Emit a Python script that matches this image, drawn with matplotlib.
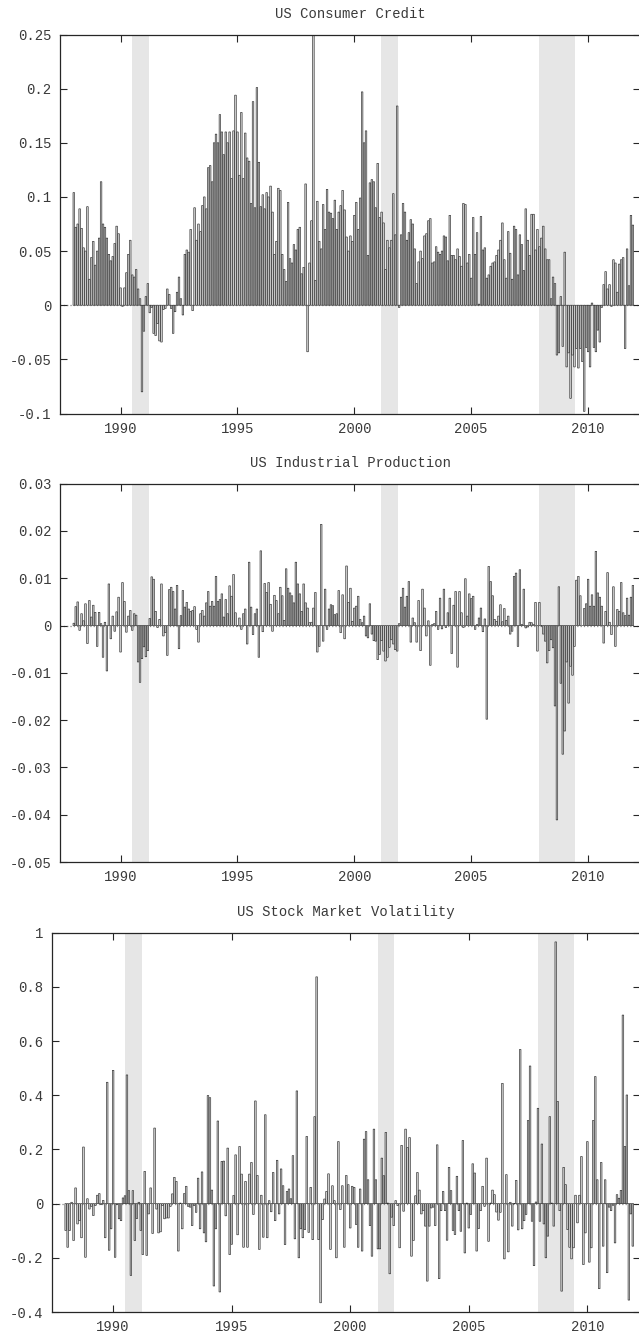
import matplotlib
matplotlib.use("Agg")
import matplotlib.pyplot as plt
import numpy as np

plt.rcParams["font.family"] = ["Liberation Mono", "DejaVu Sans Mono"]

# monthly data, Jan 1988 - Dec 2011 (one row per year)
start_year = 1988

consumer_credit = [
    0.104, 0.072, 0.075, 0.089, 0.071, 0.053, 0.050, 0.091, 0.024, 0.044, 0.059, 0.037,
    0.050, 0.062, 0.114, 0.075, 0.072, 0.062, 0.047, 0.041, 0.045, 0.057, 0.073, 0.066,
    0.016, -0.001, 0.016, 0.030, 0.047, 0.060, 0.028, 0.026, 0.033, 0.015, 0.006, -0.080,
    -0.024, 0.008, 0.020, -0.007, -0.002, -0.026, -0.028, -0.017, -0.033, -0.034, -0.004, -0.003,
    0.015, 0.010, -0.003, -0.026, -0.006, 0.012, 0.026, 0.006, -0.009, 0.047, 0.051, 0.049,
    0.070, -0.005, 0.090, 0.060, 0.075, 0.068, 0.092, 0.100, 0.089, 0.127, 0.129, 0.114,
    0.150, 0.158, 0.150, 0.176, 0.160, 0.139, 0.160, 0.150, 0.160, 0.117, 0.161, 0.194,
    0.160, 0.120, 0.178, 0.117, 0.159, 0.136, 0.133, 0.094, 0.188, 0.090, 0.201, 0.132,
    0.091, 0.102, 0.089, 0.104, 0.100, 0.110, 0.086, 0.047, 0.059, 0.108, 0.106, 0.047,
    0.033, 0.022, 0.095, 0.043, 0.039, 0.056, 0.051, 0.070, 0.072, 0.029, 0.035, 0.112,
    -0.043, 0.039, 0.078, 0.249, 0.023, 0.096, 0.059, 0.052, 0.093, 0.070, 0.107, 0.086,
    0.085, 0.080, 0.097, 0.070, 0.086, 0.092, 0.106, 0.088, 0.063, 0.050, 0.064, 0.059,
    0.083, 0.095, 0.070, 0.099, 0.197, 0.150, 0.161, 0.046, 0.113, 0.116, 0.114, 0.090,
    0.131, 0.081, 0.086, 0.076, 0.033, 0.060, 0.053, 0.060, 0.103, 0.065, 0.184, -0.002,
    0.065, 0.094, 0.086, 0.060, 0.067, 0.079, 0.075, 0.052, 0.020, 0.040, 0.050, 0.043,
    0.064, 0.066, 0.078, 0.080, 0.039, 0.040, 0.054, 0.049, 0.047, 0.050, 0.064, 0.063,
    0.041, 0.083, 0.046, 0.046, 0.042, 0.052, 0.045, 0.036, 0.094, 0.093, 0.039, 0.047,
    0.025, 0.081, 0.047, 0.067, 0.001, 0.082, 0.051, 0.053, 0.025, 0.028, 0.036, 0.039,
    0.040, 0.046, 0.051, 0.060, 0.076, 0.042, 0.025, 0.068, 0.048, 0.024, 0.073, 0.070,
    0.028, 0.065, 0.056, 0.032, 0.089, 0.060, 0.046, 0.084, 0.084, 0.051, 0.070, 0.054,
    0.062, 0.073, 0.052, 0.042, 0.042, 0.006, 0.026, 0.020, -0.046, -0.044, 0.008, -0.038,
    0.049, -0.057, -0.044, -0.086, -0.046, -0.057, -0.040, -0.058, -0.040, -0.052, -0.098, -0.039,
    -0.043, -0.057, 0.002, -0.039, -0.043, -0.023, -0.034, -0.002, 0.019, 0.031, 0.015, 0.019,
    -0.001, 0.042, 0.039, 0.012, 0.038, 0.042, 0.044, -0.040, 0.052, 0.018, 0.083, 0.074,
]

industrial_production = [
    0.0005, 0.0040, 0.0050, -0.0010, 0.0025, 0.0010, 0.0046, -0.0038, 0.0053, 0.0018, 0.0043, 0.0028,
    -0.0044, 0.0028, 0.0004, -0.0067, 0.0007, -0.0096, 0.0088, -0.0028, 0.0020, -0.0012, 0.0029, 0.0060,
    -0.0056, 0.0091, 0.0051, -0.0014, 0.0020, 0.0032, -0.0010, 0.0025, 0.0022, -0.0077, -0.0120, -0.0070,
    -0.0045, -0.0066, -0.0053, 0.0015, 0.0103, 0.0098, 0.0030, -0.0004, 0.0013, 0.0088, -0.0022, -0.0015,
    -0.0063, 0.0076, 0.0081, 0.0072, 0.0035, 0.0085, -0.0049, 0.0021, 0.0074, 0.0039, 0.0049, 0.0035,
    0.0030, 0.0032, 0.0040, -0.0008, -0.0035, 0.0025, 0.0032, 0.0020, 0.0048, 0.0072, 0.0041, 0.0051,
    0.0041, 0.0104, 0.0051, 0.0055, 0.0067, 0.0018, 0.0055, 0.0025, 0.0084, 0.0062, 0.0108, 0.0027,
    -0.0001, 0.0016, -0.0008, 0.0025, 0.0035, -0.0039, 0.0134, 0.0039, -0.0019, 0.0025, 0.0035, -0.0067,
    0.0158, -0.0013, 0.0089, 0.0070, 0.0091, 0.0045, -0.0012, 0.0064, 0.0053, 0.0025, 0.0081, 0.0063,
    0.0011, 0.0120, 0.0079, 0.0069, 0.0063, 0.0048, 0.0134, 0.0088, 0.0067, 0.0030, 0.0088, 0.0048,
    0.0037, 0.0006, 0.0007, 0.0037, 0.0070, -0.0056, -0.0044, 0.0214, -0.0033, 0.0077, -0.0008, 0.0035,
    0.0044, 0.0042, 0.0023, 0.0025, 0.0074, -0.0015, 0.0065, -0.0028, 0.0126, 0.0049, 0.0079, 0.0009,
    0.0037, 0.0041, 0.0062, 0.0013, 0.0006, 0.0020, -0.0022, -0.0026, 0.0046, -0.0018, -0.0032, -0.0033,
    -0.0072, -0.0061, -0.0032, -0.0054, -0.0075, -0.0067, -0.0046, -0.0030, -0.0039, -0.0051, -0.0054, 0.0004,
    0.0060, 0.0079, 0.0039, 0.0062, 0.0093, -0.0035, 0.0016, 0.0006, -0.0035, 0.0053, -0.0053, 0.0077,
    0.0037, -0.0022, 0.0010, -0.0084, 0.0002, 0.0004, 0.0030, -0.0008, 0.0058, -0.0007, 0.0077, -0.0004,
    0.0027, 0.0058, -0.0059, 0.0043, 0.0072, -0.0088, 0.0072, 0.0027, -0.0004, 0.0099, 0.0020, 0.0067,
    0.0057, 0.0062, -0.0008, 0.0002, 0.0016, 0.0037, -0.0013, 0.0014, -0.0198, 0.0125, 0.0093, 0.0063,
    0.0013, 0.0009, 0.0020, 0.0044, 0.0008, 0.0036, 0.0011, 0.0020, -0.0018, -0.0012, 0.0104, 0.0111,
    -0.0044, 0.0118, 0.0002, 0.0077, -0.0005, -0.0003, 0.0007, 0.0006, 0.0002, 0.0049, -0.0054, 0.0049,
    -0.0001, -0.0018, -0.0033, -0.0079, -0.0053, -0.0030, -0.0047, -0.0170, -0.0411, 0.0082, -0.0122, -0.0272,
    -0.0223, -0.0077, -0.0164, -0.0086, -0.0105, -0.0044, 0.0096, 0.0104, 0.0063, 0.0000, 0.0036, 0.0046,
    0.0098, 0.0041, 0.0065, 0.0041, 0.0157, 0.0069, 0.0060, 0.0041, -0.0037, 0.0030, 0.0112, 0.0007,
    -0.0019, 0.0082, -0.0044, 0.0034, 0.0030, 0.0091, 0.0027, 0.0021, 0.0058, 0.0022, 0.0060, 0.0085,
]

stock_volatility = [
    -0.099, -0.161, -0.099, 0.005, -0.136, 0.058, -0.075, -0.063, -0.126, 0.209, -0.198, 0.018,
    -0.020, -0.010, -0.044, -0.007, 0.031, 0.037, -0.004, 0.012, -0.126, 0.448, -0.172, -0.093,
    0.492, -0.198, -0.004, -0.056, -0.063, 0.021, 0.029, 0.475, 0.048, -0.265, 0.048, -0.136,
    -0.055, 0.005, -0.099, -0.188, 0.119, -0.191, -0.038, 0.058, -0.110, 0.279, -0.020, -0.108,
    -0.104, -0.007, -0.056, -0.053, -0.053, -0.010, 0.036, 0.097, 0.082, -0.175, 0.002, -0.093,
    0.037, 0.064, -0.010, -0.013, -0.081, -0.007, -0.032, 0.094, -0.093, 0.117, -0.108, -0.141,
    0.399, 0.391, 0.050, -0.304, -0.093, 0.305, -0.326, 0.156, 0.157, -0.045, 0.205, -0.188,
    -0.150, 0.030, 0.180, -0.115, 0.211, 0.109, -0.161, 0.082, -0.161, 0.109, 0.152, -0.040,
    0.379, 0.104, -0.169, 0.031, -0.124, 0.328, -0.126, 0.011, -0.030, 0.115, -0.063, 0.160,
    -0.038, 0.128, 0.066, -0.151, 0.045, 0.054, 0.018, 0.177, -0.130, 0.416, -0.200, -0.093,
    -0.126, -0.096, 0.248, -0.106, 0.060, -0.133, 0.321, 0.837, -0.133, -0.366, -0.059, 0.017,
    0.045, 0.110, -0.169, 0.066, 0.011, -0.200, 0.229, -0.022, 0.066, -0.161, 0.104, 0.070,
    -0.090, 0.064, 0.060, -0.077, -0.161, 0.054, -0.175, 0.238, 0.266, 0.088, -0.081, -0.194,
    0.275, 0.088, -0.167, -0.167, 0.168, 0.103, 0.263, 0.002, -0.259, -0.050, -0.081, 0.011,
    -0.007, -0.163, 0.215, -0.028, 0.275, 0.207, 0.244, -0.194, -0.136, 0.029, 0.115, 0.050,
    -0.038, -0.026, -0.083, -0.286, -0.083, -0.016, -0.013, -0.081, 0.217, -0.277, -0.026, 0.045,
    -0.026, -0.135, 0.134, 0.048, -0.099, -0.114, 0.101, -0.026, -0.102, 0.233, -0.182, 0.002,
    -0.090, -0.040, 0.147, 0.113, -0.175, -0.092, -0.026, 0.064, -0.010, 0.168, -0.139, 0.002,
    0.050, 0.033, -0.031, -0.061, -0.032, 0.444, -0.204, 0.107, -0.178, 0.005, -0.083, -0.001,
    0.086, -0.097, 0.569, -0.093, -0.063, -0.040, 0.307, 0.508, -0.065, -0.229, 0.006, 0.352,
    -0.065, 0.220, -0.075, -0.200, -0.120, 0.321, 0.002, -0.083, 0.966, 0.377, -0.026, -0.323,
    0.134, 0.070, -0.096, -0.161, -0.204, -0.163, 0.031, -0.071, 0.031, 0.174, -0.225, -0.108,
    0.229, -0.216, -0.163, 0.307, 0.469, 0.088, -0.314, 0.152, -0.157, 0.088, -0.255, -0.013,
    -0.026, -0.006, -0.145, 0.033, 0.020, 0.049, 0.696, 0.211, 0.401, -0.356, -0.038, -0.157,
]

# NBER recessions (decimal years)
recessions = [(1990.5, 1991.21), (2001.16, 2001.86), (2007.9, 2009.44)]

year_ticks = [1990, 1995, 2000, 2005, 2010]
credit_ticks = [-0.1, -0.05, 0, 0.05, 0.1, 0.15, 0.2, 0.25]
production_ticks = [-0.05, -0.04, -0.03, -0.02, -0.01, 0, 0.01, 0.02, 0.03]
volatility_ticks = [-0.4, -0.2, 0, 0.2, 0.4, 0.6, 0.8, 1]

TEXT = "#3a3a3a"


def draw_panel(ax, values, title, ticks):
    x = start_year + np.arange(len(values)) / 12
    for a, b in recessions:
        ax.axvspan(a, b, color="#e6e6e6", lw=0, zorder=0)
    ax.axhline(0, color="#888888", ls=":", lw=0.9, zorder=1)
    bars = ax.bar(x, values, width=0.8 / 12, color="#d4d4d4", edgecolor="#2a2a2a",
                  linewidth=0.45, zorder=2)
    for b in bars:
        b.set_snap(False)

    ax.set_xlim(1987.41, 2012.22)
    ax.set_ylim(ticks[0], ticks[-1])
    ax.set_xticks(year_ticks)
    ax.set_xticklabels([str(y) for y in year_ticks])
    ax.set_yticks(ticks)
    ax.set_yticklabels([f"{t:g}" for t in ticks])
    ax.tick_params(direction="in", top=True, right=True, length=5, width=0.8,
                   colors="#262626", labelcolor=TEXT, labelsize=10, pad=6)
    for sp in ax.spines.values():
        sp.set_color("#262626")
        sp.set_linewidth(0.9)
    ax.set_title(title, fontsize=10, color=TEXT, pad=12)


fig = plt.figure(figsize=(6.39, 13.37), dpi=100)
ax1 = fig.add_axes([60 / 639, 1 - 413.5 / 1337, 580 / 639, 379 / 1337])
ax2 = fig.add_axes([60 / 639, 1 - 862 / 1337, 580 / 639, 378.3 / 1337])
ax3 = fig.add_axes([51.7 / 639, 1 - 1312 / 1337, 588.3 / 639, 379.3 / 1337])

draw_panel(ax1, consumer_credit, "US Consumer Credit", credit_ticks)
draw_panel(ax2, industrial_production, "US Industrial Production", production_ticks)
draw_panel(ax3, stock_volatility, "US Stock Market Volatility", volatility_ticks)

fig.savefig("out.png", dpi=100)
plt.close(fig)
